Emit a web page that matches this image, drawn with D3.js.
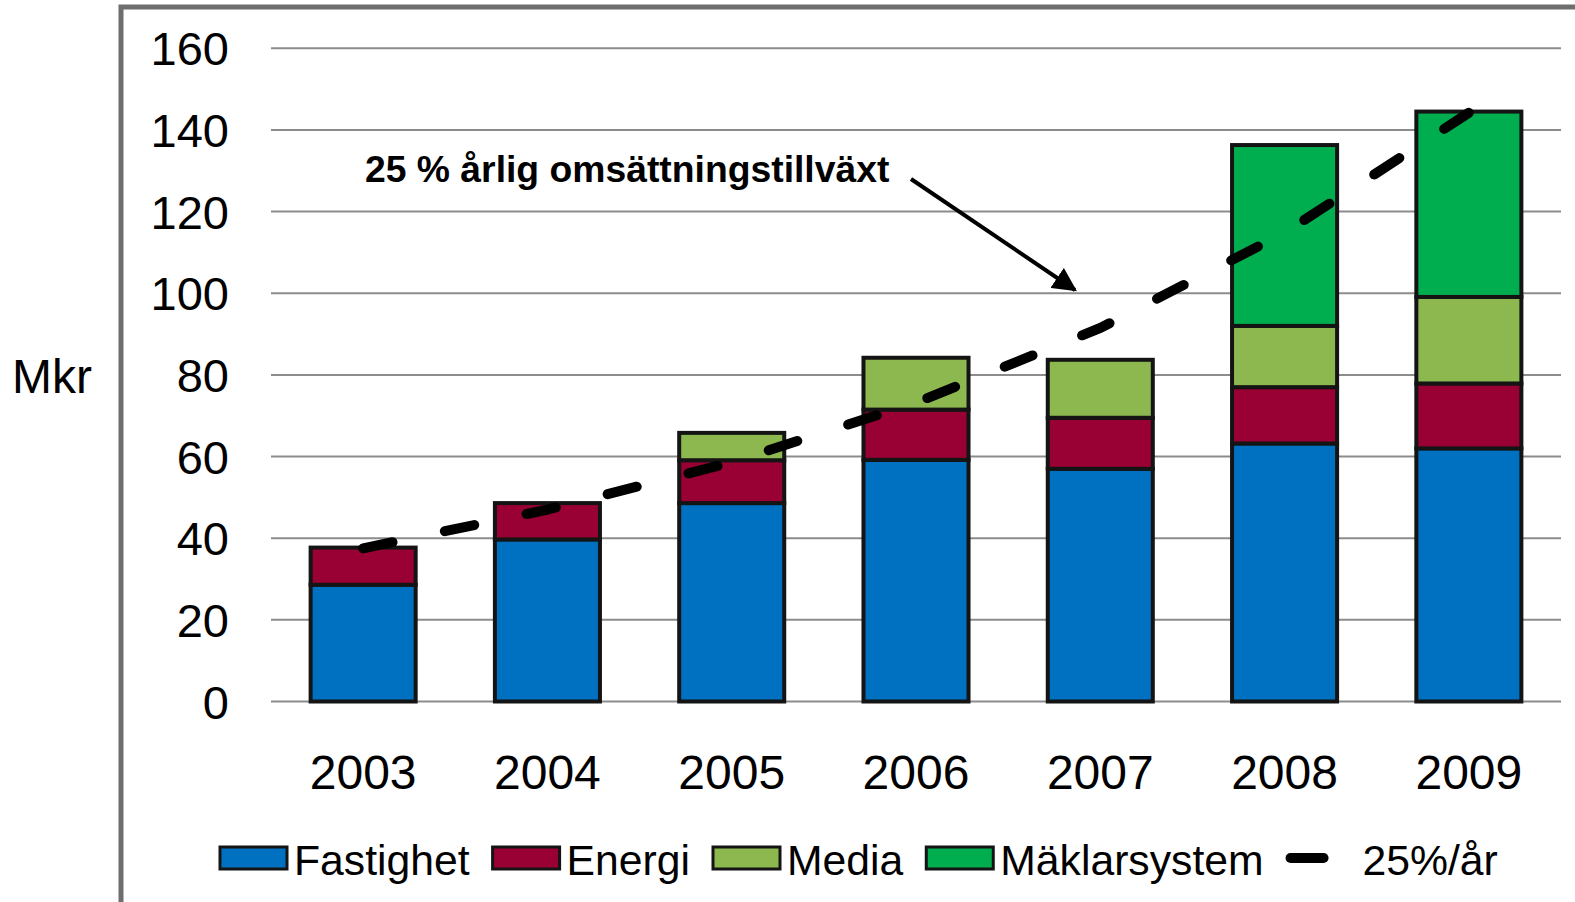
<!DOCTYPE html>
<html>
<head>
<meta charset="utf-8">
<script src="https://cdn.jsdelivr.net/npm/d3@7"></script>
<style>
  body { margin: 0; background: #fff; }
  svg text { font-family: "Liberation Sans", Arial, sans-serif; }
</style>
</head>
<body>
<div id="chart"></div>
<script>
// Data
const years = ["2003","2004","2005","2006","2007","2008","2009"];
const fastighet    = [28.6, 39.7, 48.6, 59.2, 57.0, 63.2, 62.0];
const energi       = [9.1, 8.9, 10.5, 12.3, 12.5, 13.8, 15.9];
const media        = [0, 0, 6.7, 12.7, 14.2, 15.0, 21.2];
const maklarsystem = [0, 0, 0, 0, 0, 44.3, 45.4];
const trend        = [37.5, 47.0, 58.6, 73.2, 91.5, 114.8, 144.2];
const seriesNames  = ["Fastighet","Energi","Media","Mäklarsystem"];
const trendName    = "25%/år";
const yTicks       = [0, 20, 40, 60, 80, 100, 120, 140, 160];

const W = 1575, H = 902;
const colors = ["#0070C0", "#990033", "#8DB84F", "#00AE4F"];

const svg = d3.select("#chart").append("svg")
  .attr("width", W).attr("height", H);

// outer frame (left + top edge)
svg.append("path")
  .attr("d", `M121,${H} L121,7 L${W},7`)
  .attr("fill", "none")
  .attr("stroke", "#6e6e6e")
  .attr("stroke-width", 5);

const x = d3.scaleBand()
  .domain(years)
  .range([271, 1561])
  .paddingInner(0.43)
  .paddingOuter(0.215);

const y = d3.scaleLinear()
  .domain([0, 160])
  .range([701.5, 48.3]);

// gridlines
svg.append("g")
  .selectAll("line")
  .data(yTicks)
  .join("line")
    .attr("x1", 271).attr("x2", 1561)
    .attr("y1", d => y(d)).attr("y2", d => y(d))
    .attr("stroke", "#8c8c8c")
    .attr("stroke-width", 2);

// y tick labels
svg.append("g")
  .selectAll("text")
  .data(yTicks)
  .join("text")
    .attr("x", 229)
    .attr("y", d => y(d) + 17)
    .attr("text-anchor", "end")
    .style("font-size", "47px")
    .text(d => d);

svg.append("text")
  .attr("x", 12).attr("y", 393)
  .style("font-size", "48px")
  .text("Mkr");

// stacked bars
const rows = years.map((yr, i) => ({
  year: yr,
  Fastighet: fastighet[i],
  Energi: energi[i],
  Media: media[i],
  "Mäklarsystem": maklarsystem[i]
}));
const stacked = d3.stack().keys(seriesNames)(rows);

svg.append("g")
  .selectAll("g")
  .data(stacked)
  .join("g")
    .attr("fill", (d, i) => colors[i])
  .selectAll("rect")
  .data(d => d.filter(p => p[1] - p[0] > 0))
  .join("rect")
    .attr("x", d => x(d.data.year))
    .attr("y", d => y(d[1]))
    .attr("width", x.bandwidth())
    .attr("height", d => y(d[0]) - y(d[1]))
    .attr("stroke", "#141414")
    .attr("stroke-width", 4);

// x labels
svg.append("g")
  .selectAll("text")
  .data(years)
  .join("text")
    .attr("x", d => x(d) + x.bandwidth() / 2)
    .attr("y", 789)
    .attr("text-anchor", "middle")
    .style("font-size", "48px")
    .text(d => d);

// trend line 25%/year
const line = d3.line()
  .x((d, i) => x(years[i]) + x.bandwidth() / 2)
  .y(d => y(d));

svg.append("path")
  .datum(trend)
  .attr("d", line)
  .attr("fill", "none")
  .attr("stroke", "#000")
  .attr("stroke-width", 10)
  .attr("stroke-linecap", "round")
  .attr("stroke-dasharray", "30,53.5");

// annotation + arrow
svg.append("defs").append("marker")
  .attr("id", "arrow")
  .attr("viewBox", "0 0 10 10")
  .attr("refX", 9).attr("refY", 5)
  .attr("markerWidth", 6).attr("markerHeight", 6)
  .attr("orient", "auto")
  .attr("markerUnits", "strokeWidth")
  .append("path")
    .attr("d", "M0,0 L10,5 L0,10 z")
    .attr("fill", "#000");

svg.append("line")
  .attr("x1", 911).attr("y1", 179)
  .attr("x2", 1075).attr("y2", 290)
  .attr("stroke", "#000")
  .attr("stroke-width", 4)
  .attr("marker-end", "url(#arrow)");

svg.append("text")
  .attr("x", 365).attr("y", 182)
  .style("font-size", "37.3px")
  .style("font-weight", "bold")
  .text("25 % årlig omsättningstillväxt");

// legend
const legend = svg.append("g");
let lx = 220;
const ly = 847;
seriesNames.forEach((name, i) => {
  legend.append("rect")
    .attr("x", lx).attr("y", ly)
    .attr("width", 67).attr("height", 22)
    .attr("fill", colors[i])
    .attr("stroke", "#141414")
    .attr("stroke-width", 3);
  const t = legend.append("text")
    .attr("x", lx + 74).attr("y", ly + 28)
    .style("font-size", "42.7px")
    .text(name);
  lx = lx + 74 + t.node().getComputedTextLength() + 23;
});
legend.append("line")
  .attr("x1", lx + 4).attr("x2", lx + 37)
  .attr("y1", ly + 11).attr("y2", ly + 11)
  .attr("stroke", "#000")
  .attr("stroke-width", 10)
  .attr("stroke-linecap", "round");
legend.append("text")
  .attr("x", lx + 76).attr("y", ly + 28)
  .style("font-size", "42.7px")
  .text(trendName);
</script>
</body>
</html>
